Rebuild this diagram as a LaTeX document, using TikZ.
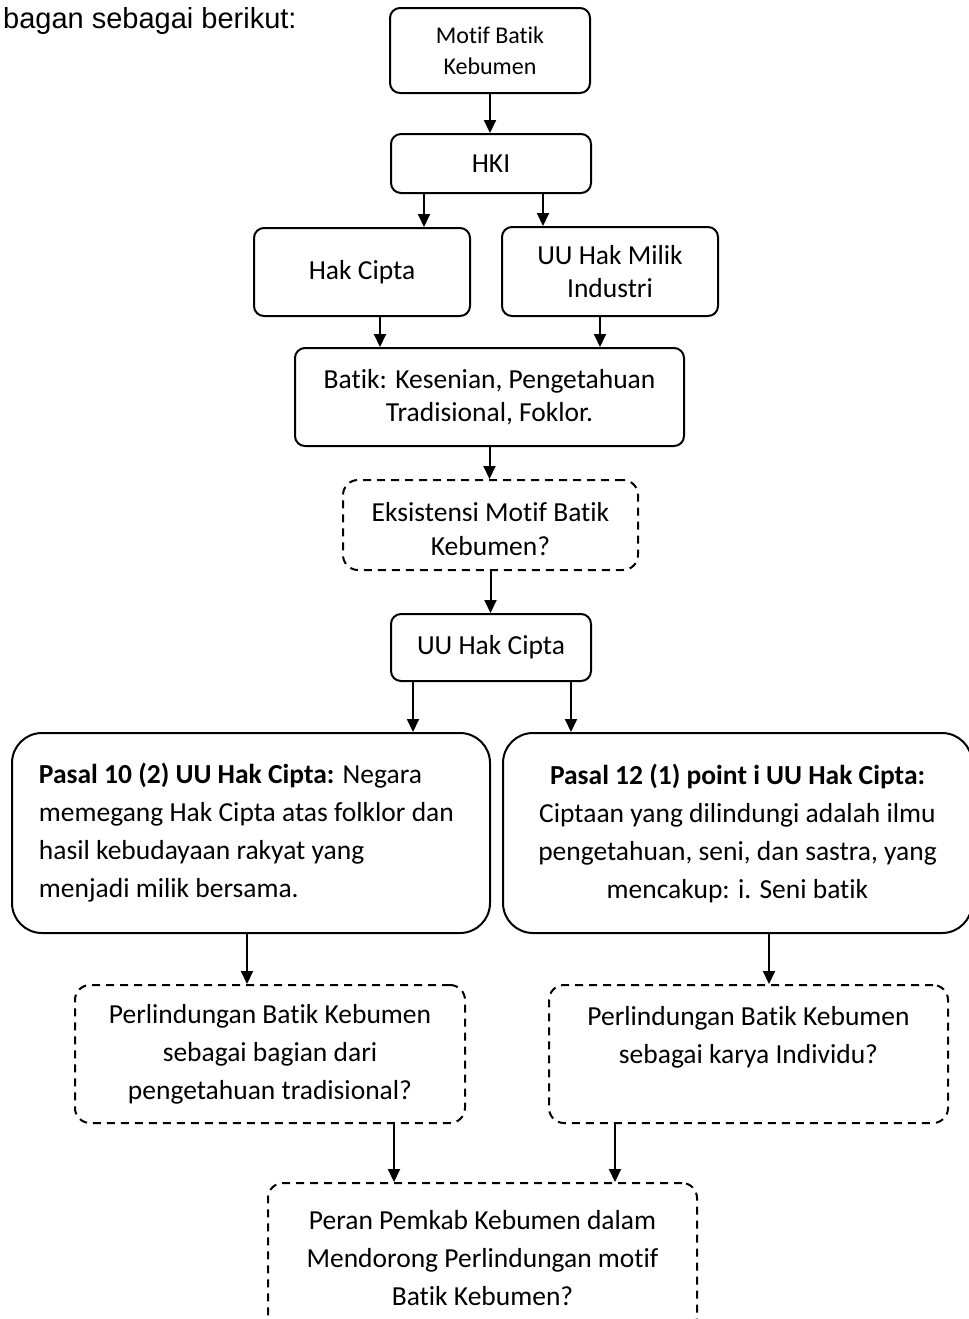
\documentclass[tikz,border=0pt]{standalone}
\usepackage{fontspec}
\setmainfont{Carlito}[Ligatures=NoCommon]
\newfontfamily\titlefont{Liberation Sans}
\usetikzlibrary{arrows.meta}

\tikzset{
  box/.style={draw, line width=1pt, rounded corners=5pt, align=center, inner sep=0pt,
    font=\fontsize{13.75}{16.5}\selectfont},
  qbox/.style={box, dash pattern=on 4pt off 3pt, rounded corners=7.5pt,
    font=\fontsize{13.75}{19}\selectfont},
  pbox/.style={box, rounded corners=15pt, font=\fontsize{13.75}{19}\selectfont},
  arr/.style={line width=1pt, -{Triangle[width=6pt,length=6.5pt]}}
}

\begin{document}
\begin{tikzpicture}[x=0.5pt,y=0.5pt,yscale=-1,xscale=1]
\useasboundingbox (0,0) rectangle (969,1319);
\node[anchor=base east, inner sep=0pt, font=\titlefont\fontsize{14.5}{17}\selectfont] (judul) at (297,28) {bagan sebagai berikut:};
% kotak atas
\node[box, minimum width=100pt, minimum height=42.5pt, font=\fontsize{12}{15.5}\selectfont] (motif) at (490,50.5) {Motif Batik\\Kebumen};
\node[box, minimum width=100pt, minimum height=29.5pt] (hki) at (491,163.5) {HKI};
\node[box, minimum width=108pt, minimum height=44pt] (hakcipta) at (362,272) {Hak Cipta};
\node[box, minimum width=108pt, minimum height=44.5pt] (milik) at (610,271.5) {UU Hak Milik\\Industri};
\node[box, minimum width=194.5pt, minimum height=49pt] (batik) at (489.5,397) {Batik: Kesenian, Pengetahuan\\Tradisional, Foklor.};
\node[qbox, minimum width=147.5pt, minimum height=45pt, font=\fontsize{13.75}{17}\selectfont] (eksis) at (490.5,525) {\rule{0pt}{14pt}Eksistensi Motif Batik\\Kebumen?};
\node[box, minimum width=100pt, minimum height=33.5pt] (uuhc) at (491,647.5) {UU Hak Cipta};
% pasal
\node[pbox, minimum width=239pt, minimum height=100pt, text width=212pt, align=flush left] (pasalA) at (251,833)
  {\textbf{Pasal 10 (2) UU Hak Cipta:} Negara\\memegang Hak Cipta atas folklor dan\\hasil kebudayaan rakyat yang\\menjadi milik bersama.};
\node[pbox, minimum width=234.5pt, minimum height=100pt] (pasalB) at (737.5,833)
  {\textbf{Pasal 12 (1) point i UU Hak Cipta:}\\Ciptaan yang dilindungi adalah ilmu\\pengetahuan, seni, dan sastra, yang\\mencakup: i. Seni batik};
% pertanyaan
\node[qbox, minimum width=195pt, minimum height=69pt] (lindA) at (270,1054) {Perlindungan Batik Kebumen\\sebagai bagian dari\\pengetahuan tradisional?};
\node[qbox, minimum width=199.5pt, minimum height=69pt] (lindB) at (748.5,1054) {Perlindungan Batik Kebumen\\sebagai karya Individu?\\\mbox{}};
\node[qbox, minimum width=214.5pt, minimum height=75pt] (peran) at (482.5,1258) {Peran Pemkab Kebumen dalam\\Mendorong Perlindungan motif\\Batik Kebumen?};
% panah
\draw[arr] (motif.south) -- (motif.south |- hki.north);
\draw[arr] ([xshift=-33.5pt]hki.south) -- ([xshift=-33.5pt]hki.south |- hakcipta.north);
\draw[arr] ([xshift=26pt]hki.south) -- ([xshift=26pt]hki.south |- milik.north);
\draw[arr] ([xshift=9pt]hakcipta.south) -- ([xshift=9pt]hakcipta.south |- batik.north);
\draw[arr] ([xshift=-5pt]milik.south) -- ([xshift=-5pt]milik.south |- batik.north);
\draw[arr] (batik.south) -- (batik.south |- eksis.north);
\draw[arr] (eksis.south) -- (eksis.south |- uuhc.north);
\draw[arr] ([xshift=-39pt]uuhc.south) -- ([xshift=-39pt]uuhc.south |- pasalA.north);
\draw[arr] ([xshift=40pt]uuhc.south) -- ([xshift=40pt]uuhc.south |- pasalB.north);
\draw[arr] ([xshift=-2pt]pasalA.south) -- ([xshift=-2pt]pasalA.south |- lindA.north);
\draw[arr] ([xshift=15.75pt]pasalB.south) -- ([xshift=15.75pt]pasalB.south |- lindB.north);
\draw[arr] ([xshift=62pt]lindA.south) -- ([xshift=62pt]lindA.south |- peran.north);
\draw[arr] ([xshift=-66.75pt]lindB.south) -- ([xshift=-66.75pt]lindB.south |- peran.north);
\end{tikzpicture}
\end{document}
